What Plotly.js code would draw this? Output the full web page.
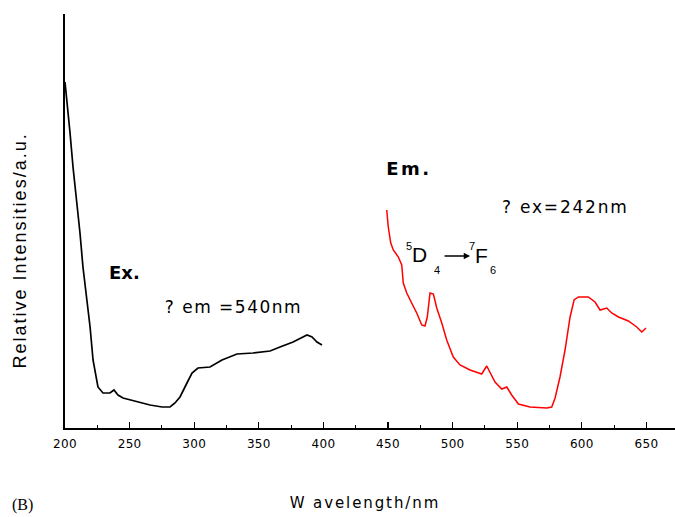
<!DOCTYPE html>
<html>
<head>
<meta charset="utf-8">
<script src="https://cdn.plot.ly/plotly-3.0.1.min.js"></script>
<style>html,body{margin:0;padding:0;background:#fff;}#chart{width:675px;height:517px;}</style>
</head>
<body>
<div id="chart"></div>
<script>
// Excitation spectrum (monitored at 540 nm)
const exWavelength = [200.0, 201.3, 203.9, 206.2, 209.1, 211.6, 213.9, 216.8, 219.4, 221.7, 225.5, 229.4, 234.8, 237.9, 241.0, 244.9, 258.1, 265.8, 275.1, 281.3, 285.1, 289.0, 294.4, 298.3, 302.9, 312.2, 321.5, 333.1, 345.5, 358.7, 366.4, 376.5, 387.3, 391.2, 395.0, 398.9];
const exIntensity  = [346, 331, 295, 261, 228, 195, 161, 128, 101, 68, 41, 35, 35, 38, 33, 30, 26, 23, 21, 21, 25, 31, 45, 55, 60, 61, 68, 74, 75, 77, 81, 86, 93, 91, 86, 83];

// Emission spectrum (excited at 242 nm)
const emWavelength = [449.0, 450.2, 452.1, 454.1, 458.0, 460.6, 461.8, 464.5, 468.3, 472.2, 476.1, 478.6, 480.4, 482.5, 485.1, 487.7, 491.6, 495.4, 500.5, 505.7, 513.5, 522.5, 526.4, 529.0, 532.8, 538.0, 541.9, 545.7, 550.9, 559.9, 572.8, 576.7, 579.3, 583.1, 587.0, 590.9, 594.0, 597.3, 605.0, 610.2, 614.1, 619.3, 623.1, 628.3, 636.0, 642.5, 646.4, 649.7];
const emIntensity  = [218, 201, 185, 178, 171, 163, 145, 135, 125, 115, 103, 102, 111, 135, 134, 120, 105, 88, 71, 63, 58, 54, 62, 56, 46, 39, 41, 33, 24, 21, 20, 21, 30, 51, 78, 111, 128, 131, 131, 126, 118, 120, 115, 111, 107, 101, 96, 100];

const xTickVals = [200, 250, 300, 350, 400, 450, 500, 550, 600, 650];
const xTickText = ['200', '250', '300', '350', '400', '450', '500', '550', '600', '650'];

const traces = [
  {x: exWavelength, y: exIntensity, type: 'scatter', mode: 'lines', name: 'Ex.',
   line: {color: '#000000', width: 1.7}},
  {x: emWavelength, y: emIntensity, type: 'scatter', mode: 'lines', name: 'Em.',
   line: {color: '#ff0000', width: 1.5}}
];

const SANS = '"DejaVu Sans", Verdana, sans-serif';
const ARIAL = 'Arial, "Liberation Sans", sans-serif';
function f(size, family, weight) { return {family: family || SANS, size: size, color: '#000', weight: weight || 'normal'}; }

// annotation specs; ls = letter spacing applied after drawing
const annSpecs = [
  {ls: 2, xref: 'paper', yref: 'paper', x: -0.073, y: 0.43, text: 'Relative Intensities/a.u.', textangle: -90,
   showarrow: false, font: f(18, ARIAL), xanchor: 'center', yanchor: 'middle'},
  {ls: 0, xref: 'x', yref: 'y', x: 232.6, y: 156, text: '<b>Ex.</b>', showarrow: false, xanchor: 'left', yanchor: 'middle', font: f(18)},
  {ls: 1.5, xref: 'x', yref: 'y', x: 282.0, y: 121, text: '? em =540nm', showarrow: false, xanchor: 'left', yanchor: 'middle', font: f(17)},
  {ls: 2.5, xref: 'x', yref: 'y', x: 450.1, y: 260, text: '<b>Em.</b>', showarrow: false, xanchor: 'left', yanchor: 'middle', font: f(18)},
  {ls: 1.8, xref: 'x', yref: 'y', x: 543.9, y: 221, text: '? ex=242nm', showarrow: false, xanchor: 'left', yanchor: 'middle', font: f(17)},
  {ls: 0, xref: 'x', yref: 'y', x: 466.3, y: 182, text: '5', showarrow: false, xanchor: 'center', yanchor: 'middle', font: f(11, ARIAL)},
  {ls: 0, xref: 'x', yref: 'y', x: 474.0, y: 174, text: 'D', showarrow: false, xanchor: 'center', yanchor: 'middle', font: f(21, ARIAL)},
  {ls: 0, xref: 'x', yref: 'y', x: 487.9, y: 158, text: '4', showarrow: false, xanchor: 'center', yanchor: 'middle', font: f(11, ARIAL)},
  {ls: 0, xref: 'x', yref: 'y', x: 513.5, y: 172, ax: 492.6, ay: 172, axref: 'x', ayref: 'y', text: '', showarrow: true,
   arrowhead: 2, arrowsize: 0.9, arrowwidth: 1.4, arrowcolor: '#000', standoff: 0, startstandoff: 0},
  {ls: 0, xref: 'x', yref: 'y', x: 515.0, y: 182, text: '7', showarrow: false, xanchor: 'center', yanchor: 'middle', font: f(11, ARIAL)},
  {ls: 0, xref: 'x', yref: 'y', x: 522.0, y: 173, text: 'F', showarrow: false, xanchor: 'center', yanchor: 'middle', font: f(21, ARIAL)},
  {ls: 0, xref: 'x', yref: 'y', x: 531.3, y: 158, text: '6', showarrow: false, xanchor: 'center', yanchor: 'middle', font: f(11, ARIAL)},
  {ls: 1.9, xref: 'paper', yref: 'paper', x: 0.492, y: -0.181, text: 'W avelength/nm', showarrow: false, xanchor: 'center', yanchor: 'middle', font: f(15)},
  {ls: 0, xref: 'paper', yref: 'paper', x: -0.069, y: -0.187, text: '(B)', showarrow: false, xanchor: 'center', yanchor: 'middle',
   font: f(16, '"Liberation Serif", "Times New Roman", serif')}
];
const spacings = annSpecs.map(a => a.ls);
const annotations = annSpecs.map(a => { const c = Object.assign({}, a); delete c.ls; return c; });

const layout = {
  width: 675, height: 517,
  margin: {l: 65, r: 0, t: 14, b: 89, pad: 0},
  paper_bgcolor: '#fff', plot_bgcolor: '#fff',
  showlegend: false,
  xaxis: {
    range: [200, 672.1], tickvals: xTickVals, ticktext: xTickText,
    ticks: 'inside', ticklen: 6, tickwidth: 1.3, tickcolor: '#000',
    minor: {ticks: 'inside', ticklen: 3, tickwidth: 1, tickcolor: '#000', dtick: 25, tick0: 0},
    showline: true, linecolor: '#000', linewidth: 1.6, showgrid: false, zeroline: false,
    tickfont: f(12), ticklabelstandoff: 4
  },
  yaxis: {
    range: [0, 414], showticklabels: false, ticks: '',
    showline: true, linecolor: '#000', linewidth: 1.6, showgrid: false, zeroline: false
  },
  annotations: annotations
};

Plotly.newPlot('chart', traces, layout, {displayModeBar: false, staticPlot: true}).then(function (gd) {
  spacings.forEach(function (s, i) {
    if (!s) return;
    gd.querySelectorAll('g.annotation[data-index="' + i + '"] text').forEach(function (t) {
      t.style.letterSpacing = s + 'px';
    });
  });
  gd.querySelectorAll('.xtick text').forEach(function (t) { t.style.letterSpacing = '0.3px'; });
});
</script>
</body>
</html>
